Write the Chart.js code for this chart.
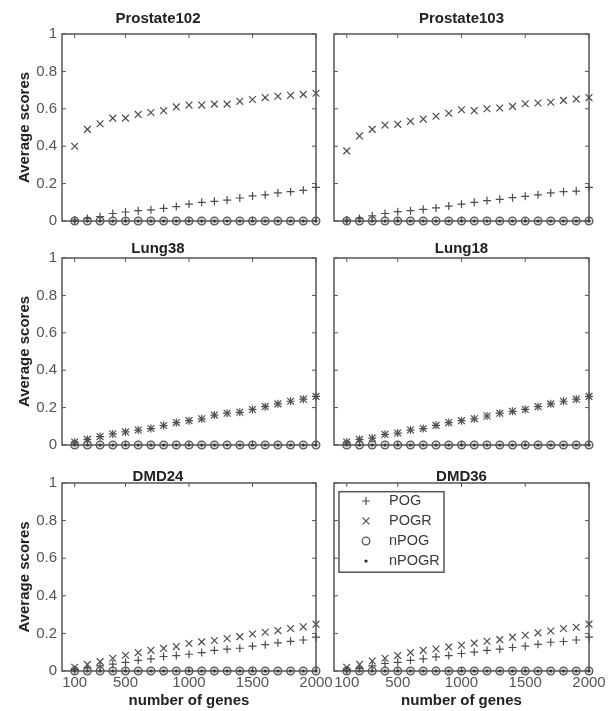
<!DOCTYPE html>
<html>
<head>
<meta charset="utf-8">
<script src="https://cdn.jsdelivr.net/npm/chart.js@4.4.1/dist/chart.umd.min.js"></script>
<style>
html,body{margin:0;padding:0;background:#fff;}
#wrap{position:relative;width:614px;height:711px;background:#fff;overflow:hidden;}
#wrap canvas{position:absolute;left:0;top:0;}
</style>
</head>
<body>
<div id="wrap"></div>
<script>
// ---------------- data ----------------
const genes = [100, 200, 300, 400, 500, 600, 700, 800, 900, 1000, 1100, 1200, 1300, 1400, 1500, 1600, 1700, 1800, 1900, 2000];
const xTickValues = [100, 500, 1000, 1500, 2000];
const yTickStep = 0.2;
const seriesNames = ['POG', 'POGR', 'nPOG', 'nPOGR'];
const panelNames = ['Prostate102', 'Prostate103', 'Lung38', 'Lung18', 'DMD24', 'DMD36'];

const prostate102POG   = [0.005, 0.014, 0.023, 0.040, 0.048, 0.055, 0.060, 0.068, 0.077, 0.090, 0.100, 0.105, 0.112, 0.123, 0.134, 0.140, 0.150, 0.157, 0.164, 0.180];
const prostate102POGR  = [0.400, 0.490, 0.520, 0.550, 0.550, 0.570, 0.580, 0.590, 0.610, 0.620, 0.620, 0.625, 0.625, 0.640, 0.650, 0.660, 0.667, 0.672, 0.677, 0.683];
const prostate102nPOG  = [0, 0, 0, 0, 0, 0, 0, 0, 0, 0, 0, 0, 0, 0, 0, 0, 0, 0, 0, 0];
const prostate102nPOGR = [0, 0, 0, 0, 0, 0, 0, 0, 0, 0, 0, 0, 0, 0, 0, 0, 0, 0, 0, 0];

const prostate103POG   = [0.005, 0.014, 0.027, 0.040, 0.050, 0.055, 0.062, 0.070, 0.080, 0.090, 0.100, 0.109, 0.116, 0.125, 0.132, 0.140, 0.150, 0.157, 0.160, 0.180];
const prostate103POGR  = [0.375, 0.455, 0.490, 0.513, 0.517, 0.533, 0.545, 0.560, 0.576, 0.595, 0.590, 0.600, 0.604, 0.613, 0.627, 0.631, 0.635, 0.645, 0.652, 0.660];
const prostate103nPOG  = [0, 0, 0, 0, 0, 0, 0, 0, 0, 0, 0, 0, 0, 0, 0, 0, 0, 0, 0, 0];
const prostate103nPOGR = [0, 0, 0, 0, 0, 0, 0, 0, 0, 0, 0, 0, 0, 0, 0, 0, 0, 0, 0, 0];

const lung38POG   = [0.016, 0.030, 0.045, 0.059, 0.070, 0.080, 0.088, 0.104, 0.120, 0.130, 0.140, 0.160, 0.170, 0.175, 0.190, 0.205, 0.220, 0.234, 0.245, 0.260];
const lung38POGR  = [0.016, 0.030, 0.045, 0.059, 0.070, 0.080, 0.088, 0.104, 0.120, 0.130, 0.140, 0.160, 0.170, 0.175, 0.190, 0.205, 0.220, 0.234, 0.245, 0.260];
const lung38nPOG  = [0, 0, 0, 0, 0, 0, 0, 0, 0, 0, 0, 0, 0, 0, 0, 0, 0, 0, 0, 0];
const lung38nPOGR = [0, 0, 0, 0, 0, 0, 0, 0, 0, 0, 0, 0, 0, 0, 0, 0, 0, 0, 0, 0];

const lung18POG   = [0.016, 0.030, 0.037, 0.057, 0.064, 0.080, 0.088, 0.105, 0.120, 0.130, 0.140, 0.155, 0.170, 0.180, 0.190, 0.205, 0.220, 0.234, 0.245, 0.260];
const lung18POGR  = [0.016, 0.030, 0.037, 0.057, 0.064, 0.080, 0.088, 0.105, 0.120, 0.130, 0.140, 0.155, 0.170, 0.180, 0.190, 0.205, 0.220, 0.234, 0.245, 0.260];
const lung18nPOG  = [0, 0, 0, 0, 0, 0, 0, 0, 0, 0, 0, 0, 0, 0, 0, 0, 0, 0, 0, 0];
const lung18nPOGR = [0, 0, 0, 0, 0, 0, 0, 0, 0, 0, 0, 0, 0, 0, 0, 0, 0, 0, 0, 0];

const dmd24POG   = [0.007, 0.016, 0.027, 0.037, 0.046, 0.057, 0.064, 0.077, 0.082, 0.089, 0.098, 0.110, 0.116, 0.121, 0.132, 0.140, 0.150, 0.158, 0.165, 0.180];
const dmd24POGR  = [0.020, 0.035, 0.050, 0.068, 0.084, 0.098, 0.110, 0.120, 0.130, 0.146, 0.155, 0.162, 0.173, 0.183, 0.197, 0.206, 0.215, 0.226, 0.235, 0.249];
const dmd24nPOG  = [0, 0, 0, 0, 0, 0, 0, 0, 0, 0, 0, 0, 0, 0, 0, 0, 0, 0, 0, 0];
const dmd24nPOGR = [0, 0, 0, 0, 0, 0, 0, 0, 0, 0, 0, 0, 0, 0, 0, 0, 0, 0, 0, 0];

const dmd36POG   = [0.005, 0.014, 0.027, 0.040, 0.046, 0.057, 0.064, 0.075, 0.082, 0.093, 0.100, 0.110, 0.116, 0.125, 0.132, 0.142, 0.153, 0.157, 0.165, 0.180];
const dmd36POGR  = [0.020, 0.035, 0.053, 0.068, 0.082, 0.098, 0.110, 0.117, 0.128, 0.137, 0.148, 0.158, 0.167, 0.180, 0.190, 0.203, 0.213, 0.226, 0.233, 0.249];
const dmd36nPOG  = [0, 0, 0, 0, 0, 0, 0, 0, 0, 0, 0, 0, 0, 0, 0, 0, 0, 0, 0, 0];
const dmd36nPOGR = [0, 0, 0, 0, 0, 0, 0, 0, 0, 0, 0, 0, 0, 0, 0, 0, 0, 0, 0, 0];

const panelSeries = [
  [prostate102POG, prostate102POGR, prostate102nPOG, prostate102nPOGR],
  [prostate103POG, prostate103POGR, prostate103nPOG, prostate103nPOGR],
  [lung38POG, lung38POGR, lung38nPOG, lung38nPOGR],
  [lung18POG, lung18POGR, lung18nPOG, lung18nPOGR],
  [dmd24POG, dmd24POGR, dmd24nPOG, dmd24nPOGR],
  [dmd36POG, dmd36POGR, dmd36nPOG, dmd36nPOGR]
];
const xAxisTitle = 'number of genes';
const yAxisTitle = 'Average scores';

// ---------------- layout & style ----------------
const W = 614, H = 711;
const FONT = "'Liberation Sans', Arial, Helvetica, sans-serif";
const cols = [{left: 62, right: 316}, {left: 334, right: 589}];
const rows = [
  {top: 34,  bottom: 221, padTop: 12.7,  titleGap: 9.3},
  {top: 258, bottom: 445, padTop: 242.5, titleGap: 3.5},
  {top: 483, bottom: 671, padTop: 471,   titleGap: 0}
];
const markerStyles = [
  {pointStyle: 'cross',    pointRadius: 4.0, pointBorderWidth: 1.2, pointBorderColor: '#4d4d4d', pointBackgroundColor: 'rgba(0,0,0,0)'},
  {pointStyle: 'crossRot', pointRadius: 4.8, pointBorderWidth: 1.2, pointBorderColor: '#4d4d4d', pointBackgroundColor: 'rgba(0,0,0,0)'},
  {pointStyle: 'circle',   pointRadius: 3.8, pointBorderWidth: 1.3, pointBorderColor: '#555555', pointBackgroundColor: 'rgba(120,120,120,0.25)'},
  {pointStyle: 'circle',   pointRadius: 1.6, pointBorderWidth: 0,   pointBorderColor: '#222222', pointBackgroundColor: '#222222'}
];
const legendMarkerFill = ['rgba(0,0,0,0)', 'rgba(0,0,0,0)', 'rgba(0,0,0,0)', '#222222'];

const framePlugin = {
  id: 'matlabFrame',
  beforeDatasetsDraw(chart) {
    const {ctx, chartArea: a} = chart;
    const x = chart.scales.x, y = chart.scales.y;
    ctx.save();
    ctx.strokeStyle = '#555';
    ctx.lineWidth = 1.5;
    ctx.strokeRect(a.left, a.top, a.right - a.left, a.bottom - a.top);
    ctx.lineWidth = 1;
    const t = 4;
    ctx.beginPath();
    x.ticks.forEach(tk => {
      const px = x.getPixelForValue(tk.value);
      ctx.moveTo(px, a.top); ctx.lineTo(px, a.top + t);
      ctx.moveTo(px, a.bottom); ctx.lineTo(px, a.bottom - t);
    });
    y.ticks.forEach(tk => {
      const py = y.getPixelForValue(tk.value);
      ctx.moveTo(a.left, py); ctx.lineTo(a.left + t, py);
      ctx.moveTo(a.right, py); ctx.lineTo(a.right - t, py);
    });
    ctx.stroke();
    ctx.restore();
  }
};

const boxLegendPlugin = {
  id: 'boxLegend',
  afterDatasetsDraw(chart, args, opts) {
    if (!opts || !opts.display) return;
    const {ctx, chartArea: a} = chart;
    const left = a.left + opts.offsetX, top = a.top + opts.offsetY;
    ctx.save();
    ctx.fillStyle = '#fff';
    ctx.fillRect(left, top, opts.width, opts.height);
    ctx.strokeStyle = '#555';
    ctx.lineWidth = 1.5;
    ctx.strokeRect(left, top, opts.width, opts.height);
    chart.data.datasets.forEach((ds, i) => {
      const cy = top + opts.firstRow + i * opts.rowGap;
      const cx = left + opts.markerX;
      ctx.save();
      ctx.strokeStyle = ds.pointBorderColor;
      ctx.fillStyle = legendMarkerFill[i];
      ctx.lineWidth = ds.pointBorderWidth;
      Chart.helpers.drawPoint(ctx, {pointStyle: ds.pointStyle, radius: ds.pointRadius, borderWidth: ds.pointBorderWidth, rotation: 0}, cx, cy);
      ctx.restore();
      ctx.fillStyle = '#3a3a3a';
      ctx.font = opts.fontSize + 'px ' + FONT;
      ctx.textAlign = 'left';
      ctx.textBaseline = 'middle';
      ctx.fillText(ds.label, left + opts.textX, cy);
    });
    ctx.restore();
  }
};

const wrap = document.getElementById('wrap');
panelNames.forEach((name, p) => {
  const col = p % 2, row = Math.floor(p / 2);
  const isLeft = col === 0, isBottom = row === 2;
  const c = cols[col], r = rows[row];
  const canvas = document.createElement('canvas');
  canvas.width = W; canvas.height = H;
  canvas.style.width = W + 'px'; canvas.style.height = H + 'px';
  wrap.appendChild(canvas);

  const datasets = seriesNames.map((s, k) => Object.assign({
    label: s,
    data: genes.map((g, i) => ({x: g, y: panelSeries[p][k][i]})),
    showLine: false,
    clip: false
  }, markerStyles[k]));

  new Chart(canvas, {
    type: 'scatter',
    data: {datasets},
    plugins: [framePlugin, boxLegendPlugin],
    options: {
      responsive: false,
      animation: false,
      devicePixelRatio: 1,
      events: [],
      layout: {padding: {
        left: isLeft ? 0 : c.left,
        right: W - c.right,
        top: r.padTop,
        bottom: isBottom ? 0 : H - r.bottom
      }},
      plugins: {
        legend: {display: false},
        tooltip: {enabled: false},
        title: {
          display: true, text: name, color: '#222',
          font: {family: FONT, size: 15, weight: 'bold', lineHeight: 0.8},
          padding: {top: 0, bottom: r.titleGap}
        },
        boxLegend: {
          display: p === 5, offsetX: 5, offsetY: 8.7, width: 105, height: 80.5,
          firstRow: 9.3, rowGap: 20, markerX: 27, textX: 50, fontSize: 14.5
        }
      },
      scales: {
        x: {
          type: 'linear', min: 0, max: 2000,
          afterBuildTicks: s => { s.ticks = xTickValues.map(v => ({value: v})); },
          afterFit: s => { s.height = isBottom ? 40 : 0; },
          grid: {display: false, drawTicks: false},
          border: {display: false},
          ticks: {display: isBottom, autoSkip: false, maxRotation: 0, padding: 3,
                  color: '#555', font: {family: FONT, size: 15},
                  callback: v => String(v)},
          title: {display: isBottom, text: xAxisTitle, color: '#222',
                  font: {family: FONT, size: 15, weight: 'bold'}, padding: {top: 0, bottom: 1.5}}
        },
        y: {
          type: 'linear', min: 0, max: 1,
          afterFit: s => { s.width = isLeft ? c.left : 0; },
          grid: {display: false, drawTicks: false},
          border: {display: false},
          ticks: {display: isLeft, stepSize: yTickStep, padding: 5,
                  color: '#555', font: {family: FONT, size: 15},
                  callback: v => String(Number(v.toFixed(2)))},
          title: {display: isLeft, text: yAxisTitle, color: '#222',
                  font: {family: FONT, size: 15, weight: 'bold'}, padding: {top: 16, bottom: 0}}
        }
      }
    }
  });
});
</script>
</body>
</html>
